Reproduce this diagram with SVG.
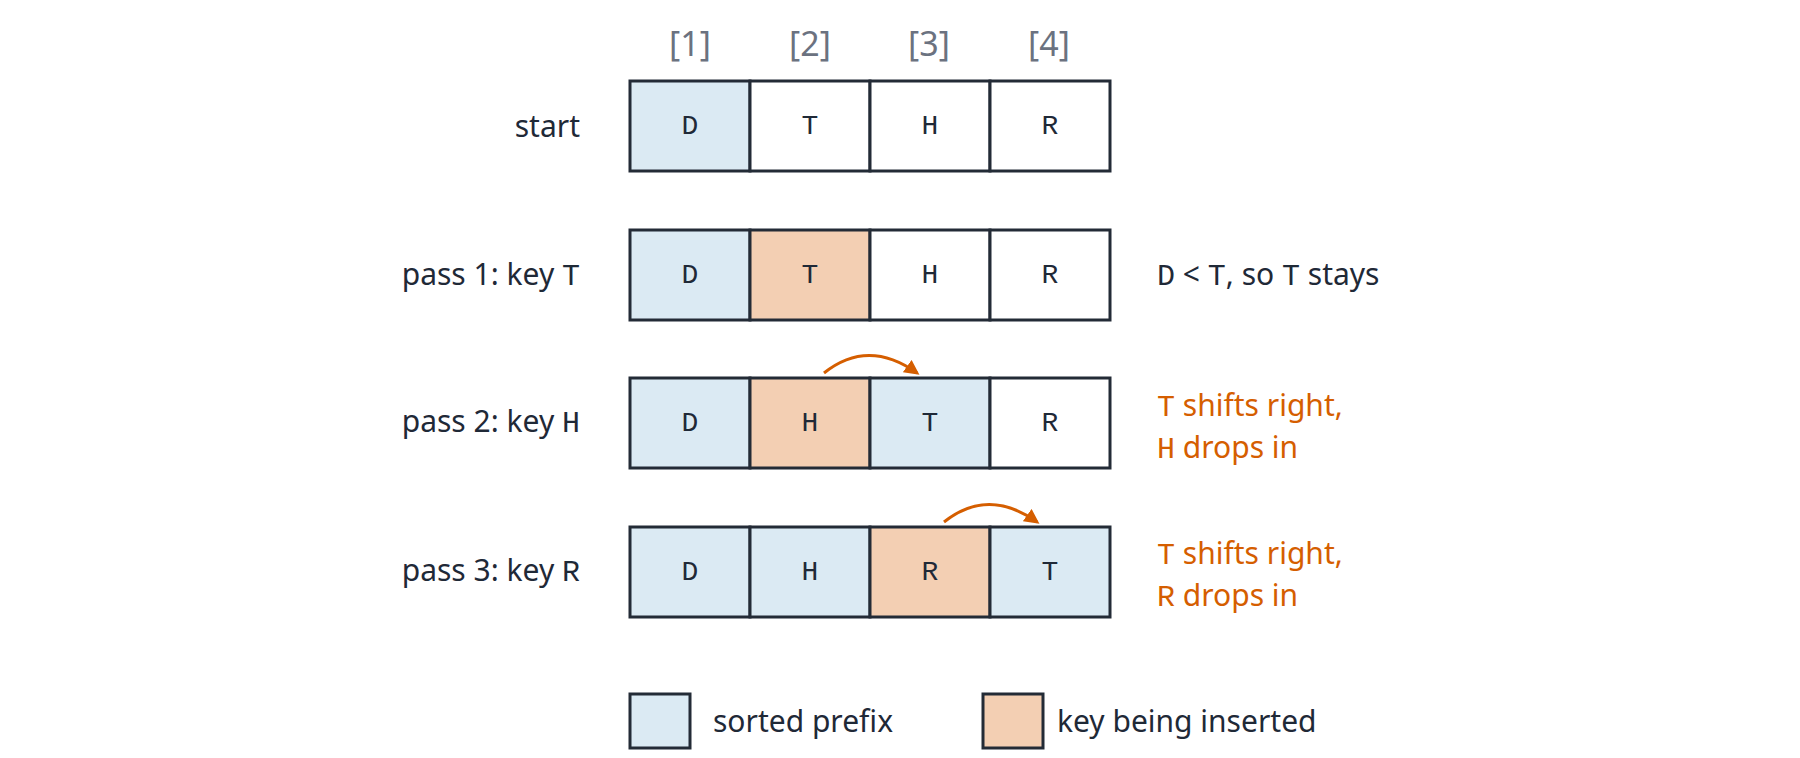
<svg xmlns="http://www.w3.org/2000/svg" width="1800" height="758" viewBox="0 0 1800 758">
<style>
.c{stroke:#232b36;stroke-width:3}
.s{fill:#dbeaf3}.k{fill:#f3cfb3}.w{fill:#fff}
.m{font-family:"Liberation Mono",monospace;font-size:28px;fill:#1f2937;text-anchor:middle;dominant-baseline:central}
.t{font-family:"Noto Sans","DejaVu Sans",sans-serif;font-size:30px;fill:#1f2937}
.tm{font-family:"Liberation Mono",monospace}
.o{fill:#d55e00}
.i{font-family:"Noto Sans",sans-serif;font-size:34px;fill:#6b7280;text-anchor:middle}
.a{fill:none;stroke:#d55e00;stroke-width:3}
</style>
<defs><marker id="ah" viewBox="0 0 10 10" refX="8" refY="5" markerWidth="5" markerHeight="5" orient="auto"><path d="M0,0L10,5L0,10z" fill="#d55e00"/></marker></defs>
<rect width="1800" height="758" fill="#fff"/>
<g id="index"><text class="i" x="690" y="56">[1]</text><text class="i" x="810" y="56">[2]</text><text class="i" x="929" y="56">[3]</text><text class="i" x="1049" y="56">[4]</text></g>
<g id="row0">
<text class="t" x="580" y="137" text-anchor="end">start</text>
<rect class="c s" x="630" y="81" width="120" height="90"/><rect class="c w" x="750" y="81" width="120" height="90"/><rect class="c w" x="870" y="81" width="120" height="90"/><rect class="c w" x="990" y="81" width="120" height="90"/>
<text class="m" x="690" y="126">D</text><text class="m" x="810" y="126">T</text><text class="m" x="930" y="126">H</text><text class="m" x="1050" y="126">R</text>
</g>
<g id="row1">
<text class="t" x="580" y="285" text-anchor="end">pass 1:  key <tspan class="tm">T</tspan></text>
<rect class="c s" x="630" y="230" width="120" height="90"/><rect class="c k" x="750" y="230" width="120" height="90"/><rect class="c w" x="870" y="230" width="120" height="90"/><rect class="c w" x="990" y="230" width="120" height="90"/>
<text class="m" x="690" y="275">D</text><text class="m" x="810" y="275">T</text><text class="m" x="930" y="275">H</text><text class="m" x="1050" y="275">R</text>
<text class="t" x="1157" y="285"><tspan class="tm">D</tspan> &lt; <tspan class="tm">T</tspan>, so <tspan class="tm">T</tspan> stays</text>
</g>
<g id="row2">
<text class="t" x="580" y="432" text-anchor="end">pass 2:  key <tspan class="tm">H</tspan></text>
<rect class="c s" x="630" y="378" width="120" height="90"/><rect class="c k" x="750" y="378" width="120" height="90"/><rect class="c s" x="870" y="378" width="120" height="90"/><rect class="c w" x="990" y="378" width="120" height="90"/>
<text class="m" x="690" y="423">D</text><text class="m" x="810" y="423">H</text><text class="m" x="930" y="423">T</text><text class="m" x="1050" y="423">R</text>
<text class="t o" x="1157" y="416"><tspan class="tm">T</tspan> shifts right,</text>
<text class="t o" x="1157" y="458"><tspan class="tm">H</tspan> drops in</text>
</g>
<g id="row3">
<text class="t" x="580" y="581" text-anchor="end">pass 3:  key <tspan class="tm">R</tspan></text>
<rect class="c s" x="630" y="527" width="120" height="90"/><rect class="c s" x="750" y="527" width="120" height="90"/><rect class="c k" x="870" y="527" width="120" height="90"/><rect class="c s" x="990" y="527" width="120" height="90"/>
<text class="m" x="690" y="572">D</text><text class="m" x="810" y="572">H</text><text class="m" x="930" y="572">R</text><text class="m" x="1050" y="572">T</text>
<text class="t o" x="1157" y="564"><tspan class="tm">T</tspan> shifts right,</text>
<text class="t o" x="1157" y="606"><tspan class="tm">R</tspan> drops in</text>
</g>
<g id="connectors">
<path class="a" d="M824,373 Q868,338 917,373" marker-end="url(#ah)"/>
<path class="a" d="M944,522 Q988,487 1037,522" marker-end="url(#ah)"/>
</g>
<g id="legend">
<rect class="c s" x="630" y="694" width="60" height="54"/><text class="t" x="713" y="732">sorted prefix</text>
<rect class="c k" x="983" y="694" width="60" height="54"/><text class="t" x="1057" y="732">key being inserted</text>
</g>
</svg>
